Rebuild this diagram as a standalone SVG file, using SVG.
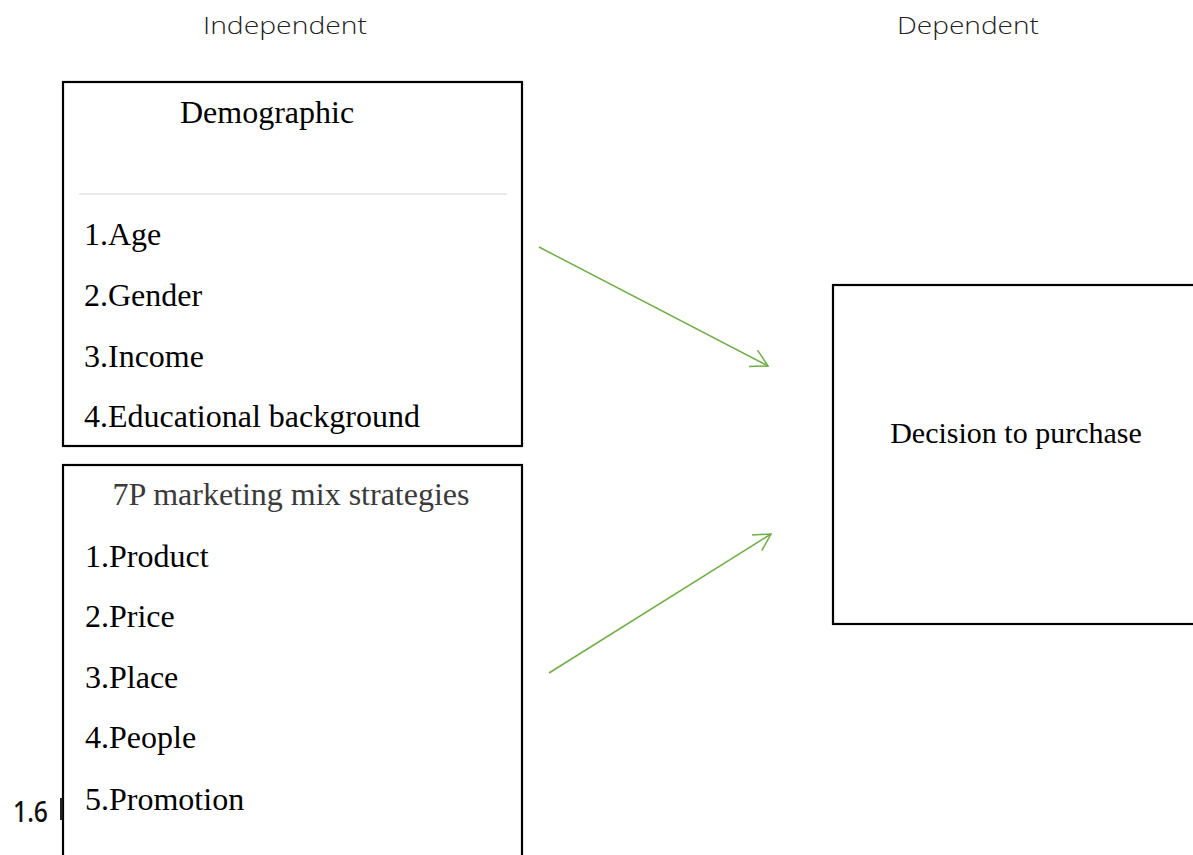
<svg xmlns="http://www.w3.org/2000/svg" width="1193" height="855" viewBox="0 0 1193 855">
<defs>
<style>
.box{fill:#fff;stroke:#000;stroke-width:2.2}
.t{font-family:"Liberation Serif","Times New Roman",serif;font-size:32px;fill:#000}
.hd{font-family:"Open Sans","Noto Sans",sans-serif;font-weight:300;font-size:24px;fill:#222}
.conn{stroke:#70AD47;stroke-width:1.5;fill:none;marker-end:url(#arr)}
</style>
<marker id="arr" viewBox="0 0 17 19" refX="16.6" refY="9.5" markerWidth="17" markerHeight="19" markerUnits="userSpaceOnUse" orient="auto" overflow="visible">
<path d="M0,0.3 L16.6,9.5 L0,18.7" fill="none" stroke="#70AD47" stroke-width="1.5"/>
</marker>
</defs>
<rect width="1193" height="855" fill="#fff"/>
<g id="headers">
<text class="hd" x="203" y="34" textLength="164" lengthAdjust="spacingAndGlyphs">Independent</text>
<text class="hd" x="897" y="34" textLength="142" lengthAdjust="spacingAndGlyphs">Dependent</text>
</g>
<g id="demographic">
<rect class="box" x="63" y="82" width="459" height="364"/>
<text class="t" x="267" y="123" text-anchor="middle">Demographic</text>
<line x1="79" y1="194" x2="507" y2="194" stroke="#d4d4d4" stroke-width="1"/>
<text class="t" x="84" y="245">1.Age</text>
<text class="t" x="84" y="306">2.Gender</text>
<text class="t" x="84" y="367">3.Income</text>
<text class="t" x="84" y="427">4.Educational background</text>
</g>
<g id="marketing">
<rect class="box" x="63" y="465" width="459" height="400"/>
<text class="t" x="291" y="505" text-anchor="middle" style="fill:#3a3a3a">7P marketing mix strategies</text>
<text class="t" x="85" y="567">1.Product</text>
<text class="t" x="85" y="627">2.Price</text>
<text class="t" x="85" y="688">3.Place</text>
<text class="t" x="85" y="748">4.People</text>
<text class="t" x="85" y="810">5.Promotion</text>
</g>
<g id="decision">
<rect class="box" x="833" y="285" width="380" height="339"/>
<text class="t" x="1016" y="443" text-anchor="middle" style="font-size:30px">Decision to purchase</text>
</g>
<g id="connectors">
<line class="conn" x1="539" y1="247" x2="768" y2="366"/>
<line class="conn" x1="549" y1="673" x2="771" y2="534"/>
</g>
<g id="fragment">
<text x="13" y="822" textLength="35" lengthAdjust="spacingAndGlyphs" style="font-family:'Noto Sans',sans-serif;font-weight:500;font-size:28px;fill:#111">1.6</text>
<rect x="60" y="798" width="2.5" height="22" fill="#222"/>
</g>
</svg>
